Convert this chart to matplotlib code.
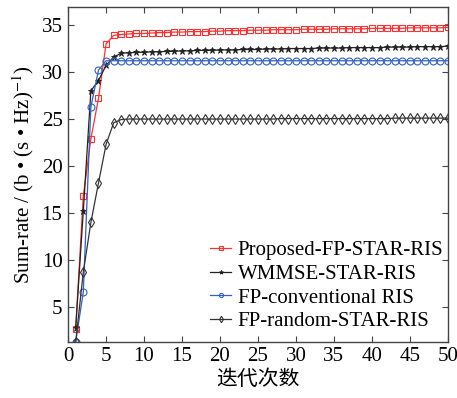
import numpy as np
import matplotlib
matplotlib.use('Agg')
import matplotlib.pyplot as plt

plt.rcParams['font.family'] = ['Liberation Serif', 'DejaVu Serif']
plt.rcParams['mathtext.fontset'] = 'stix'

iters = np.arange(1, 51)

proposed_head = [2.7, 16.8, 22.9, 27.2, 33.0, 33.9, 34.0]
wmmse_head = [2.8, 15.2, 28.0, 29.1, 30.7, 31.6, 32.0]
conv_head = [1.3, 6.6, 26.3, 30.2, 31.2]
random_head = [1.3, 8.7, 14.0, 18.2, 22.3, 24.6, 24.95]

# slow tails
proposed_tail = [34.05, 34.1, 34.1, 34.15, 34.2, 34.2, 34.25, 34.25, 34.3, 34.3,
                 34.3, 34.35, 34.35, 34.4, 34.4, 34.4, 34.45, 34.45, 34.45, 34.5,
                 34.5, 34.5, 34.5, 34.55, 34.55, 34.55, 34.55, 34.6, 34.6, 34.6,
                 34.6, 34.6, 34.65, 34.65, 34.65, 34.65, 34.65, 34.7, 34.7, 34.7,
                 34.7, 34.7, 34.75]
wmmse_tail = [32.05, 32.1, 32.1, 32.15, 32.15, 32.2, 32.2, 32.25, 32.25, 32.3,
              32.3, 32.3, 32.35, 32.35, 32.35, 32.4, 32.4, 32.4, 32.45, 32.45,
              32.45, 32.5, 32.5, 32.5, 32.5, 32.55, 32.55, 32.55, 32.55, 32.6,
              32.6, 32.6, 32.6, 32.6, 32.65, 32.65, 32.65, 32.65, 32.7, 32.7,
              32.7, 32.7, 32.75]
conv_tail = [31.2] * 45
random_tail = [25.0] * 20 + [25.05] * 15 + [25.1] * 8

proposed = proposed_head + proposed_tail
wmmse = wmmse_head + wmmse_tail
conv = conv_head + conv_tail
random_star = random_head + random_tail

fig = plt.figure(figsize=(4.57, 3.98), dpi=100)
ax = fig.add_axes([0.149, 0.141, 0.831, 0.841])

lw = 0.9
ax.plot(iters, proposed, color='#ff3030', marker='s', markersize=5, mfc='none',
        mew=0.8, lw=lw, label='Proposed-FP-STAR-RIS')
ax.plot(iters, wmmse, color='#222222', marker='*', markersize=5, mfc='#222222',
        mew=0.6, lw=lw, label='WMMSE-STAR-RIS')
ax.plot(iters, conv, color='#3060c0', marker='o', markersize=5, mfc='none',
        mew=0.8, lw=lw, label='FP-conventional RIS')
ax.plot(iters, random_star, color='#333333', marker='d', markersize=5.5, mfc='none',
        mew=0.8, lw=lw, label='FP-random-STAR-RIS')

ax.set_xlim(0, 50)
ax.set_ylim(1.3, 36.9)
ax.set_xticks(np.arange(0, 51, 5))
ax.set_yticks(np.arange(5, 36, 5))
ax.tick_params(direction='in', top=True, right=True, labelsize=15, length=4,
               color='#444444', pad=4)
for s in ax.spines.values():
    s.set_color('#444444')
    s.set_linewidth(1.0)

ax.set_xlabel('迭代次数', family=['Noto Sans CJK SC', 'DejaVu Sans'], fontsize=15, labelpad=1)
ax.set_ylabel('Sum-rate / (b • (s • Hz)$^{-1}$)', fontsize=15, labelpad=4)

ax.legend(loc='lower right', bbox_to_anchor=(1.015, 0.0), frameon=False, fontsize=15,
          handlelength=1.0, handletextpad=0.3, labelspacing=0.2, borderaxespad=0.1,
          markerscale=0.6)

fig.savefig('out.png', dpi=100)
